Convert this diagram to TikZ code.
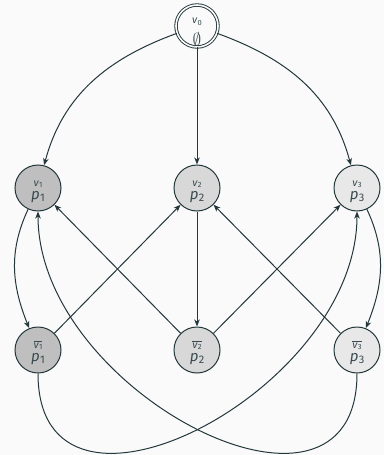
\documentclass[tikz,border=0pt]{standalone}
\usepackage{fontspec}
\setmainfont{Fira Sans}
\usetikzlibrary{arrows.meta}
\definecolor{mDarkTeal}{HTML}{23373B}
\definecolor{bgc}{HTML}{FAFAFA}
\definecolor{gA}{HTML}{BFBFBF}
\definecolor{gB}{HTML}{D8D8D8}
\definecolor{gC}{HTML}{E8E8E8}
\newcommand{\vsub}[1]{\textit{v}\kern0.2pt\raisebox{-1.6pt}{\fontsize{7.5}{7.5}\selectfont #1}}
\newcommand{\vlab}[1]{{\fontsize{10.5}{10.5}\selectfont\vsub{#1}}}
\newcommand{\vbarlab}[1]{{\fontsize{10.5}{10.5}\selectfont$\overline{\mbox{\vsub{#1}}}$}}
\newcommand{\plab}[1]{{\fontsize{15}{15}\selectfont\textit{p}\kern0.3pt\raisebox{-2.6pt}{\fontsize{11}{11}\selectfont #1}}}
\begin{document}
\begin{tikzpicture}[x=1pt,y=1pt,
  st/.style={circle, draw=mDarkTeal, line width=1pt, minimum size=46pt, inner sep=0pt,
    align=center, text=mDarkTeal!90, font=\fontsize{10}{13}\selectfont},
  startst/.style={circle, draw=mDarkTeal, line width=0.9pt, double=bgc, double distance=1.6pt,
    minimum size=42pt, inner sep=0pt, align=center, text=mDarkTeal!90, font=\fontsize{10}{13}\selectfont},
  ar/.style={draw=mDarkTeal, line width=1pt, -{Stealth[length=7pt,width=5.5pt,inset=2pt]}},
]
\fill[bgc] (0,0) rectangle (384,-455);
\useasboundingbox (0,0) rectangle (384,-455);

\node[startst, fill=bgc] (v0) at (197,-26) {\rule{0pt}{18pt}\vlab{0}\\[6pt]{\fontsize{17}{17}\selectfont$\emptyset$}};

\node[st, fill=gA] (p1) at (38,-188) {\rule{0pt}{12.5pt}\vlab{1}\\\plab{1}};
\node[st, fill=gB] (p2) at (197,-188) {\rule{0pt}{12.5pt}\vlab{2}\\\plab{2}};
\node[st, fill=gC] (p3) at (357,-188) {\rule{0pt}{12.5pt}\vlab{3}\\\plab{3}};

\node[st, fill=gA] (q1) at (38,-350) {\rule{0pt}{12.5pt}\vbarlab{1}\\\plab{1}};
\node[st, fill=gB] (q2) at (197,-350) {\rule{0pt}{12.5pt}\vbarlab{2}\\\plab{2}};
\node[st, fill=gC] (q3) at (357,-350) {\rule{0pt}{12.5pt}\vbarlab{3}\\\plab{3}};

\draw[ar] (v0) to[out=200, in=75] (p1);
\draw[ar] (v0) -- (p2);
\draw[ar] (v0) to[out=-20, in=105] (p3);

\draw[ar] (p1) to[out=245, in=112] (q1);
\draw[ar] (p3) to[out=-65, in=68] (q3);
\draw[ar] (p2) -- (q2);

\draw[ar] (q2) -- (p1);
\draw[ar] (q2) -- (p3);
\draw[ar] (q1) -- (p2);
\draw[ar] (q3) -- (p2);

\draw[ar] (q1.south) .. controls +(0,-182) and +(0,-182) .. (p3.south);
\draw[ar] (q3.south) .. controls +(0,-182) and +(0,-182) .. (p1.south);
\end{tikzpicture}
\end{document}
